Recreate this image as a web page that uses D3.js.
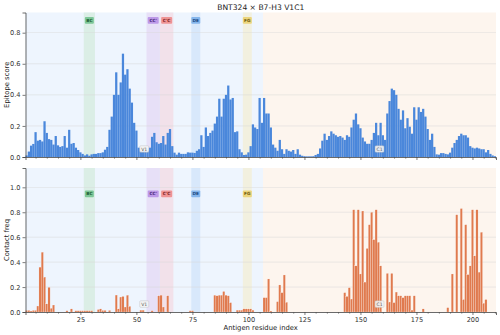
<!DOCTYPE html>
<html>
<head>
<meta charset="utf-8">
<script src="https://cdn.jsdelivr.net/npm/d3@7"></script>
<style>
  html, body { margin: 0; padding: 0; background: #fff; }
  svg { display: block; font-family: "DejaVu Sans", sans-serif; }
  .tick text { fill: #333; }
</style>
</head>
<body>
<div id="chart"></div>
<script>
const title = 'BNT324 × B7-H3 V1C1';

// per-residue values, residues 1..210
const epitopeScore = [
  0.01, 0.035, 0.073, 0.084, 0.16, 0.105, 0.11, 0.10, 0.23, 0.155,
  0.115, 0.11, 0.08, 0.135, 0.075, 0.065, 0.07, 0.135, 0.06, 0.175,
  0.085, 0.09, 0.06, 0.045, 0.03, 0.02, 0.01, 0.017, 0.008, 0.017,
  0.02, 0.02, 0.025, 0.025, 0.03, 0.047, 0.065, 0.175, 0.26, 0.40,
  0.545, 0.40, 0.48, 0.665, 0.53, 0.565, 0.44, 0.35, 0.22, 0.17,
  0.06, 0.04, 0.04, 0.04, 0.04, 0.06, 0.13, 0.155, 0.095, 0.085,
  0.09, 0.135, 0.08, 0.155, 0.18, 0.07, 0.028, 0.015, 0.028, 0.02,
  0.02, 0.02, 0.03, 0.028, 0.028, 0.026, 0.04, 0.05, 0.14, 0.065,
  0.19, 0.135, 0.155, 0.17, 0.215, 0.26, 0.375, 0.26, 0.375, 0.40,
  0.46, 0.37, 0.38, 0.16, 0.165, 0.05, 0.03, 0.013, 0.015, 0.03,
  0.07, 0.21, 0.19, 0.18, 0.38, 0.22, 0.38, 0.28, 0.28, 0.19,
  0.08, 0.06, 0.04, 0.11, 0.05, 0.02, 0.05, 0.04, 0.035, 0.045,
  0.02, 0.05, 0.015, 0.008, 0.005, 0.004, 0.004, 0.004, 0.005, 0.013,
  0.02, 0.055, 0.105, 0.15, 0.11, 0.135, 0.165, 0.15, 0.14, 0.13,
  0.135, 0.125, 0.11, 0.14, 0.13, 0.19, 0.24, 0.28, 0.21, 0.185,
  0.125, 0.10, 0.085, 0.085, 0.11, 0.155, 0.22, 0.14, 0.22, 0.14,
  0.11, 0.28, 0.36, 0.44, 0.43, 0.40, 0.31, 0.24, 0.30, 0.185,
  0.25, 0.195, 0.15, 0.32, 0.24, 0.32, 0.29, 0.31, 0.26, 0.18,
  0.11, 0.15, 0.065, 0.017, 0.015, 0.025, 0.025, 0.02, 0.017, 0.028,
  0.06, 0.09, 0.11, 0.135, 0.15, 0.14, 0.14, 0.125, 0.07, 0.06,
  0.055, 0.06, 0.055, 0.05, 0.05, 0.03, 0.045, 0.02, 0.01, 0.005
];

const contactFreq = [
  0.013, 0.013, 0.008, 0.013, 0.013, 0.048, 0.36, 0.48, 0.28, 0.065,
  0.198, 0.03, 0.056, 0, 0, 0, 0, 0, 0.01, 0,
  0.025, 0, 0.01, 0.01, 0.01, 0.01, 0.01, 0.01, 0.01, 0.01,
  0, 0, 0.02, 0.025, 0.013, 0.013, 0, 0.013, 0, 0,
  0.136, 0.025, 0.12, 0.125, 0.04, 0.135, 0.045, 0, 0, 0,
  0, 0.015, 0.015, 0, 0, 0, 0.01, 0, 0, 0.13,
  0.135, 0.04, 0, 0.13, 0, 0, 0, 0, 0, 0,
  0, 0, 0, 0.01, 0.01, 0, 0, 0, 0, 0,
  0, 0, 0, 0, 0.135, 0.13, 0.135, 0.135, 0.165, 0.135,
  0.13, 0.075, 0, 0, 0.015, 0.015, 0.015, 0.025, 0.025, 0.025,
  0.025, 0.015, 0, 0, 0, 0, 0.115, 0.115, 0.265, 0.008,
  0, 0, 0.083, 0.217, 0.155, 0.297, 0.078, 0, 0, 0,
  0, 0, 0, 0, 0, 0, 0, 0, 0, 0,
  0, 0, 0, 0, 0, 0, 0, 0, 0, 0,
  0, 0, 0.155, 0.125, 0.195, 0.104, 0.82, 0.37, 0.82, 0.305,
  0.81, 0.24, 0.51, 0.70, 0.80, 0.58, 0.82, 0.56, 0.37, 0,
  0, 0.31, 0.08, 0.31, 0.075, 0.16, 0.13, 0.13, 0.115, 0.13,
  0.13, 0.13, 0.015, 0.13, 0, 0, 0, 0.025, 0, 0,
  0, 0, 0, 0, 0, 0, 0, 0, 0.035, 0,
  0.305, 0, 0.78, 0, 0.83, 0.10, 0.70, 0.30, 0.37, 0.82,
  0.45, 0.82, 0.32, 0.64, 0.07, 0.10, 0, 0, 0, 0
];

const residues = d3.range(1, epitopeScore.length + 1);

// domains and CDR-contact loops (first, last residue)
const domainNames = ['V1', 'C1'];
const domainSpans = [[1, 106], [107, 210]];
const loopNames = ['BC', "CC'", "C'C", 'DE', 'FG'];
const loopSpans = [[27, 31], [55, 60], [61, 66], [75, 78], [98, 101]];

const xTicks = [25, 50, 75, 100, 125, 150, 175, 200];
const epitopeTicks = [0, 0.2, 0.4, 0.6, 0.8];
const contactTicks = [0, 0.2, 0.4, 0.6, 0.8, 1.0];

const width = 500;
const height = 335;
const margin = { left: 25.5, right: 4 };
const panels = [
  { key: 'epi', values: epitopeScore, ticks: epitopeTicks, ymax: 0.93, top: 12.5, bottom: 157,
    label: 'Epitope score', color: '#4a87db', stroke: 'none', loopAt: 0.945, showX: false },
  { key: 'con', values: contactFreq, ticks: contactTicks, ymax: 1.155, top: 168, bottom: 312,
    label: 'Contact freq', color: '#e07a4e', stroke: '#ffffff', loopAt: 0.82, showX: true }
];

const domainFill = { V1: '#eef5fe', C1: '#fdf5ee' };
const loopFill = { 'BC': '#dbeee6', "CC'": '#e7e0f7', "C'C": '#f2e1ea', 'DE': '#d8e8fb', 'FG': '#f2f0df' };
const loopBox = { 'BC': '#72c28f', "CC'": '#b891e6', "C'C": '#ee8b8b', 'DE': '#7cb0ea', 'FG': '#ead171' };
const loopText = { 'BC': '#1f5e36', "CC'": '#4a2a78', "C'C": '#7a2020', 'DE': '#1d4a80', 'FG': '#6e5a10' };

const x = d3.scaleLinear().domain([0.5, 210.5]).range([margin.left, width - margin.right]);

const svg = d3.select('#chart').append('svg').attr('width', width).attr('height', height);

svg.append('text')
  .attr('x', (x.range()[0] + x.range()[1]) / 2).attr('y', 9.5)
  .attr('text-anchor', 'middle').attr('font-size', 7.6).attr('fill', '#222')
  .text(title);

panels.forEach((p) => {
  const y = d3.scaleLinear().domain([0, p.ymax]).range([p.bottom, p.top]);
  const g = svg.append('g').attr('class', p.key);
  const x0 = x.range()[0];
  const x1 = x.range()[1];

  // domain backgrounds
  g.selectAll('rect.domain-bg')
    .data(domainNames.map((n, i) => ({ name: n, span: domainSpans[i] })))
    .join('rect')
    .attr('class', 'domain-bg')
    .attr('x', (d) => x(d.span[0] - 0.5))
    .attr('width', (d) => x(d.span[1] + 0.5) - x(d.span[0] - 0.5))
    .attr('y', p.top).attr('height', p.bottom - p.top)
    .attr('fill', (d) => domainFill[d.name]);

  // loop bands
  const loops = loopNames.map((n, i) => ({ name: n, span: loopSpans[i] }));
  g.selectAll('rect.loop-bg')
    .data(loops)
    .join('rect')
    .attr('class', 'loop-bg')
    .attr('x', (d) => x(d.span[0] - 0.5))
    .attr('width', (d) => x(d.span[1] + 0.5) - x(d.span[0] - 0.5))
    .attr('y', p.top).attr('height', p.bottom - p.top)
    .attr('fill', (d) => loopFill[d.name]);

  // grid
  g.selectAll('line.grid')
    .data(p.ticks.filter((t) => t > 0))
    .join('line')
    .attr('class', 'grid')
    .attr('x1', x0).attr('x2', x1)
    .attr('y1', (d) => y(d)).attr('y2', (d) => y(d))
    .attr('stroke', '#d9d9d9').attr('stroke-width', 0.6).attr('opacity', 0.8);

  // bars
  g.selectAll('rect.bar')
    .data(residues.map((r, i) => ({ r, v: p.values[i] })).filter((d) => d.v > 0))
    .join('rect')
    .attr('class', 'bar')
    .attr('x', (d) => x(d.r - 0.5))
    .attr('width', x(1.5) - x(0.5))
    .attr('y', (d) => y(d.v))
    .attr('height', (d) => p.bottom - y(d.v))
    .attr('fill', p.color)
    .attr('stroke', p.stroke)
    .attr('stroke-width', p.stroke === 'none' ? 0 : 0.2);

  // loop labels
  const ly = p.bottom - p.loopAt * (p.bottom - p.top);
  const lab = g.selectAll('g.loop-lab').data(loops).join('g')
    .attr('class', 'loop-lab')
    .attr('transform', (d) => `translate(${x((d.span[0] + d.span[1]) / 2)},${ly})`);
  lab.append('rect')
    .attr('x', (d) => (d.name.length > 2 ? -5.5 : -4.5)).attr('y', -3.4)
    .attr('width', (d) => (d.name.length > 2 ? 11 : 9)).attr('height', 6.8).attr('rx', 1)
    .attr('fill', (d) => loopBox[d.name]).attr('opacity', 0.9);
  lab.append('text')
    .attr('text-anchor', 'middle').attr('dy', '0.35em')
    .attr('font-size', 4.3).attr('font-weight', 'bold')
    .attr('fill', (d) => loopText[d.name])
    .text((d) => d.name);

  // domain labels
  const dy = p.bottom - 0.055 * (p.bottom - p.top);
  const dl = g.selectAll('g.dom-lab')
    .data(domainNames.map((n, i) => ({ name: n, span: domainSpans[i] })))
    .join('g')
    .attr('class', 'dom-lab')
    .attr('transform', (d) => `translate(${x((d.span[0] + d.span[1]) / 2)},${dy})`);
  dl.append('rect')
    .attr('x', -4.5).attr('y', -3.3).attr('width', 9).attr('height', 6.6).attr('rx', 1)
    .attr('fill', '#f4f4f4').attr('stroke', '#b5b5b5').attr('stroke-width', 0.4).attr('opacity', 0.9);
  dl.append('text')
    .attr('text-anchor', 'middle').attr('dy', '0.35em')
    .attr('font-size', 4.6).attr('fill', '#555')
    .text((d) => d.name);

  // axes
  const yAxis = g.append('g')
    .attr('transform', `translate(${x0},0)`)
    .call(d3.axisLeft(y).tickValues(p.ticks).tickFormat(d3.format('.1f')).tickSize(3).tickPadding(2));
  yAxis.select('.domain').attr('stroke', '#444').attr('stroke-width', 0.8);
  yAxis.selectAll('.tick line').attr('stroke', '#444').attr('stroke-width', 0.7);
  yAxis.selectAll('.tick text').attr('font-size', 6.6).attr('font-family', 'DejaVu Sans');

  const minor = g.append('g')
    .attr('transform', `translate(0,${p.bottom})`)
    .call(d3.axisBottom(x).tickValues(d3.range(5, 211, 5).filter((t) => t % 25 !== 0)).tickSize(1.8).tickFormat(''));
  minor.select('.domain').remove();
  minor.selectAll('.tick line').attr('stroke', '#444').attr('stroke-width', 0.5);

  const xAxis = g.append('g')
    .attr('transform', `translate(0,${p.bottom})`)
    .call(d3.axisBottom(x).tickValues(xTicks).tickSize(3).tickPadding(2)
      .tickFormat(p.showX ? d3.format('d') : ''));
  xAxis.select('.domain').attr('stroke', '#444').attr('stroke-width', 0.8);
  xAxis.selectAll('.tick line').attr('stroke', '#444').attr('stroke-width', 0.7);
  xAxis.selectAll('.tick text').attr('font-size', 6.6).attr('font-family', 'DejaVu Sans');

  svg.append('text')
    .attr('transform', `translate(8.5,${(p.top + p.bottom) / 2}) rotate(-90)`)
    .attr('text-anchor', 'middle').attr('font-size', 6.8).attr('fill', '#222')
    .text(p.label);
});

svg.append('text')
  .attr('x', (x.range()[0] + x.range()[1]) / 2).attr('y', 330)
  .attr('text-anchor', 'middle').attr('font-size', 6.8).attr('fill', '#222')
  .text('Antigen residue index');
</script>
</body>
</html>
